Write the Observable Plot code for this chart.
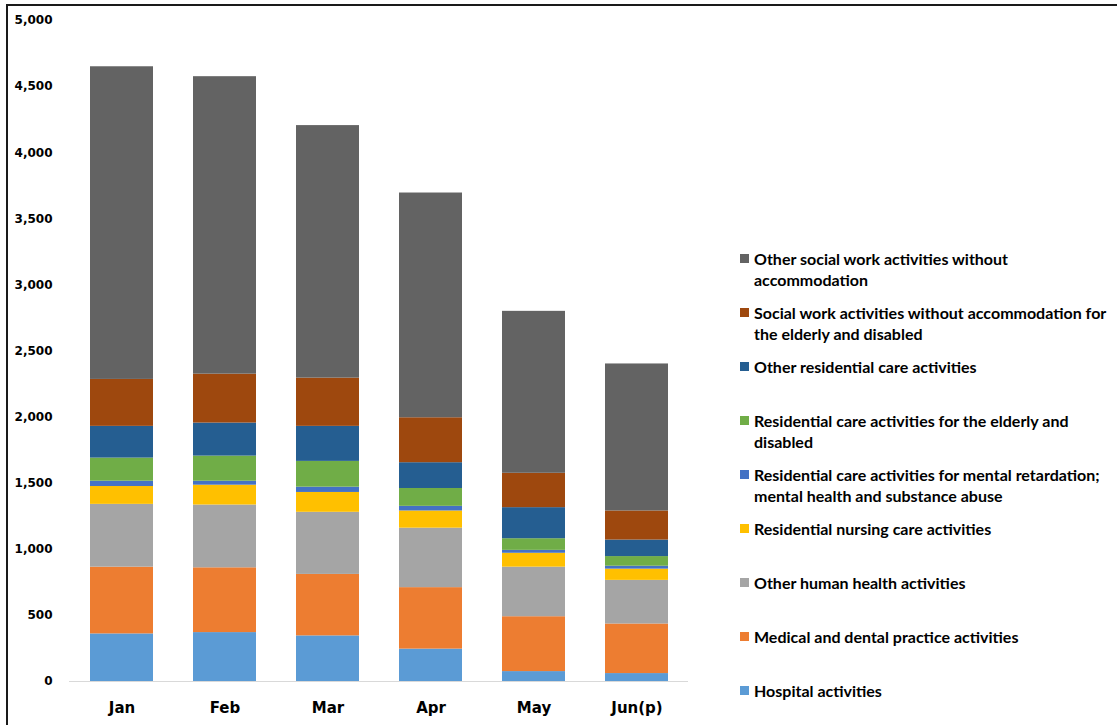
<!DOCTYPE html>
<html>
<head>
<meta charset="utf-8">
<script src="https://cdn.jsdelivr.net/npm/d3@7"></script>
<script src="https://cdn.jsdelivr.net/npm/@observablehq/plot@0.6"></script>
<style>
  html, body { margin: 0; padding: 0; background: #fff; }
  #wrap { position: relative; width: 1117px; height: 725px; overflow: hidden; }
  #frame { position: absolute; left: 6px; top: 4px; width: 1120px; height: 730px;
           border-top: 2px solid #1a1a1a; border-left: 2px solid #1a1a1a; box-sizing: border-box; }
  #chart { position: absolute; left: 0; top: 0; }
  #legend { position: absolute; left: 0; top: 0; font-family: Lato, "Open Sans", sans-serif;
            font-weight: 700; font-size: 16px; color: #000; }
  .entry { position: absolute; left: 754px; line-height: 21px; white-space: nowrap; }
  .sw { position: absolute; left: -14px; top: 6px; width: 9px; height: 9px; }
</style>
</head>
<body>
<div id="wrap">
  <div id="frame"></div>
  <div id="chart"></div>
  <div id="legend"></div>
</div>
<script>
const months = ["Jan", "Feb", "Mar", "Apr", "May", "Jun(p)"];

const seriesNames = [
  "Hospital activities",
  "Medical and dental practice activities",
  "Other human health activities",
  "Residential nursing care activities",
  "Residential care activities for mental retardation; mental health and substance abuse",
  "Residential care activities for the elderly and disabled",
  "Other residential care activities",
  "Social work activities without accommodation for the elderly and disabled",
  "Other social work activities without accommodation"
];

const hospital        = [360, 370, 345, 245, 75, 60];
const medicalDental   = [505, 490, 465, 465, 415, 375];
const otherHuman      = [475, 475, 470, 450, 375, 330];
const nursing         = [135, 150, 150, 130, 105, 85];
const mentalHealth    = [40, 30, 40, 35, 22, 22];
const elderlyRes      = [175, 190, 195, 135, 88, 73];
const otherResidential= [240, 250, 265, 195, 235, 125];
const socialElderly   = [355, 370, 365, 340, 260, 220];
const otherSocial     = [2365, 2250, 1910, 1700, 1225, 1112];

const seriesValues = [hospital, medicalDental, otherHuman, nursing, mentalHealth,
                      elderlyRes, otherResidential, socialElderly, otherSocial];

const colors = ["#5B9BD5", "#ED7D31", "#A5A5A5", "#FFC000", "#4472C4",
                "#70AD47", "#255E91", "#9E480E", "#636363"];

const yTicks = [0, 500, 1000, 1500, 2000, 2500, 3000, 3500, 4000, 4500, 5000];

// legend display (top to bottom), with line breaks
const legendLines = [
  ["Other social work activities without", "accommodation"],
  ["Social work activities without accommodation for", "the elderly and disabled"],
  ["Other residential care activities"],
  ["Residential care activities for the elderly and", "disabled"],
  ["Residential care activities for mental retardation;", "mental health and substance abuse"],
  ["Residential nursing care activities"],
  ["Other human health activities"],
  ["Medical and dental practice activities"],
  ["Hospital activities"]
];

const rows = [];
seriesNames.forEach((s, si) => {
  months.forEach((m, mi) => rows.push({month: m, series: s, value: seriesValues[si][mi]}));
});

const chart = Plot.plot({
  width: 1117,
  height: 725,
  marginLeft: 69,
  marginRight: 429,
  marginTop: 20,
  marginBottom: 44,
  style: {background: "transparent", overflow: "visible"},
  x: {domain: months, paddingInner: 0.39, paddingOuter: 0.195, label: null},
  y: {domain: [0, 5000], label: null},
  color: {domain: seriesNames, range: colors},
  marks: [
    Plot.barY(rows, {x: "month", y: "value", fill: "series", order: null, inset: 0}),
    Plot.ruleY([0], {stroke: "#d9d9d9", strokeWidth: 1}),
    Plot.axisY({ticks: yTicks, tickFormat: d3.format(","), tickSize: 0, tickPadding: 17,
                fontFamily: "DejaVu Sans", fontWeight: "bold", fontSize: 12, fill: "#000", label: null}),
    Plot.axisX({tickSize: 0, tickPadding: 21, fontFamily: "DejaVu Sans", fontWeight: "bold",
                fontSize: 15, fill: "#000", label: null})
  ]
});
document.getElementById("chart").appendChild(chart);

// legend
const legend = document.getElementById("legend");
const legendOrder = seriesNames.slice().reverse();
const legendColors = colors.slice().reverse();
legendOrder.forEach((name, i) => {
  const e = document.createElement("div");
  e.className = "entry";
  e.style.top = (258 - 10.5 + i * 54) + "px";
  e.title = name;
  const sw = document.createElement("span");
  sw.className = "sw";
  sw.style.background = legendColors[i];
  e.appendChild(sw);
  legendLines[i].forEach((ln, k) => {
    if (k > 0) e.appendChild(document.createElement("br"));
    e.appendChild(document.createTextNode(ln));
  });
  legend.appendChild(e);
});
</script>
</body>
</html>
